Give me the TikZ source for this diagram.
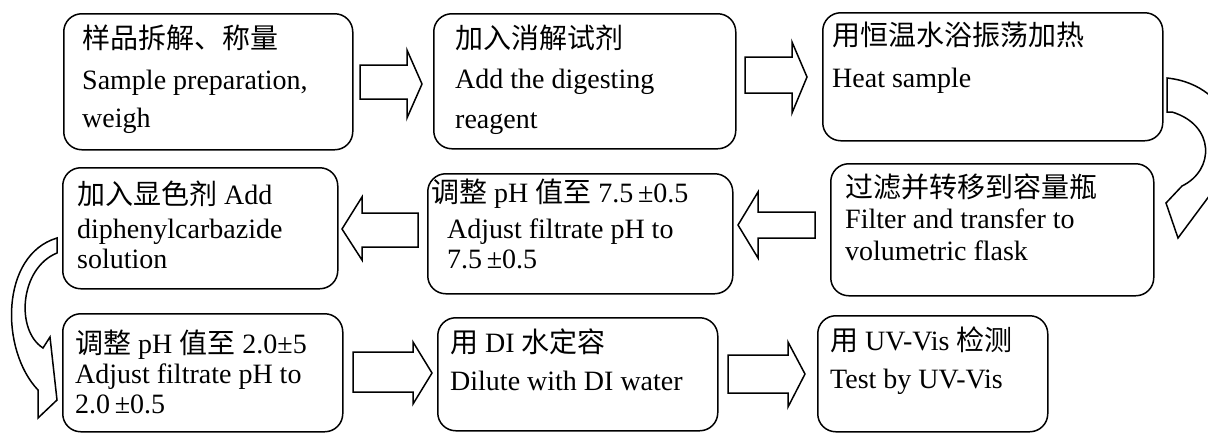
\documentclass[tikz,border=0pt]{standalone}
\usepackage{fontspec}
\setmainfont{Liberation Serif}
\newfontfamily\cjk{Noto Sans CJK SC}
\newcommand{\zh}[1]{{\cjk #1}}
\begin{document}
\begin{tikzpicture}[x=1pt,y=-1pt,
  box/.style={draw, line width=1.5pt, rounded corners=18pt, anchor=north west, inner sep=0pt},
  txt/.style={anchor=base west, inner sep=0pt, font=\fontsize{28}{32}\selectfont},
  barrow/.style={draw, line width=1.5pt, fill=white, line join=miter}]
\useasboundingbox (0,0) rectangle (1208,432);
% boxes
\node[box, minimum width=289pt, minimum height=136pt] (b1) at (63,13) {};
\node[box, minimum width=302pt, minimum height=135pt] (b2) at (433,13) {};
\node[box, minimum width=340pt, minimum height=128pt] (b3) at (822,12) {};
\node[box, minimum width=323pt, minimum height=132pt] (b4) at (830,163) {};
\node[box, minimum width=305pt, minimum height=120pt] (b5) at (427,173) {};
\node[box, minimum width=275pt, minimum height=121pt] (b6) at (62,167) {};
\node[box, minimum width=280pt, minimum height=118pt] (b7) at (62,313) {};
\node[box, minimum width=280pt, minimum height=113pt] (b8) at (437,317) {};
\node[box, minimum width=230pt, minimum height=116pt] (b9) at (817,315) {};
% texts
\node[txt] (t1a) at (82,48) {\zh{样品拆解、称量}};
\node[txt] (t1b) at (82,89) {Sample preparation,};
\node[txt] (t1c) at (82,127) {weigh};
\node[txt] (t2a) at (455,48) {\zh{加入消解试剂}};
\node[txt] (t2b) at (455,88) {Add the digesting};
\node[txt] (t2c) at (455,128) {reagent};
\node[txt] (t3a) at (832,45) {\zh{用恒温水浴振荡加热}};
\node[txt] (t3b) at (832,87) {Heat sample};
\node[txt] (t4a) at (845,197) {\zh{过滤并转移到容量瓶}};
\node[txt] (t4b) at (845,228) {Filter and transfer to};
\node[txt] (t4c) at (845,260) {volumetric flask};
\node[txt] (t5a) at (431,202) {\zh{调整} pH \zh{值至} 7.5\,±0.5};
\node[txt] (t5b) at (447,238) {Adjust filtrate pH to};
\node[txt] (t5c) at (447,268) {7.5\,±0.5};
\node[txt] (t6a) at (77,204) {\zh{加入显色剂} Add};
\node[txt] (t6b) at (77,238) {diphenylcarbazide};
\node[txt] (t6c) at (77,268) {solution};
\node[txt] (t7a) at (75,353) {\zh{调整} pH \zh{值至} 2.0±5};
\node[txt] (t7b) at (75,383) {Adjust filtrate pH to};
\node[txt] (t7c) at (75,413) {2.0\,±0.5};
\node[txt] (t8a) at (450,352) {\zh{用} DI \zh{水定容}};
\node[txt] (t8b) at (450,390) {Dilute with DI water};
\node[txt] (t9a) at (830,350) {\zh{用} UV-Vis \zh{检测}};
\node[txt] (t9b) at (830,388) {Test by UV-Vis};
% straight block arrows
\draw[barrow] (360,65) -- (407,65) -- (407,50) -- (422,84) -- (407,118) -- (407,99) -- (360,99) -- cycle;
\draw[barrow] (745,57) -- (792,57) -- (792,42) -- (807,77) -- (792,113) -- (792,93) -- (745,93) -- cycle;
\draw[barrow] (815,212) -- (758,212) -- (758,192) -- (738,225) -- (758,258) -- (758,238) -- (815,238) -- cycle;
\draw[barrow] (418,213) -- (362,213) -- (362,197) -- (342,229) -- (362,260) -- (362,247) -- (418,247) -- cycle;
\draw[barrow] (353,352) -- (413,352) -- (413,342) -- (432,373) -- (413,404) -- (413,392) -- (353,392) -- cycle;
\draw[barrow] (728,355) -- (788,355) -- (788,342) -- (805,374) -- (788,407) -- (788,393) -- (728,393) -- cycle;
% curved arrows
\draw[barrow] (1167,78) .. controls (1235,85) and (1250,160) .. (1216,174)
  -- (1230,168) -- (1178,238) -- (1166,203) -- (1182,186)
  .. controls (1215,170) and (1215,125) .. (1172,112) -- (1167,112) -- cycle;
\draw[barrow] (57,253) .. controls (20,268) and (15,330) .. (43,348)
  -- (50,337) -- (57,400) -- (38,418) -- (38,390)
  .. controls (0,350) and (0,255) .. (57,238) -- cycle;
\end{tikzpicture}
\end{document}
